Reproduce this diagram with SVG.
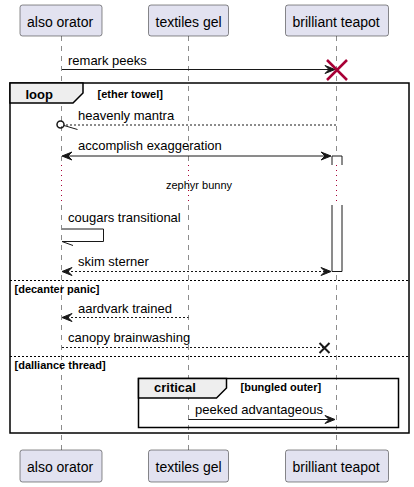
<svg xmlns="http://www.w3.org/2000/svg" width="414" height="487" viewBox="0 0 414 487">
<style>
.part rect{fill:#E2E2F0;stroke:#181818;stroke-width:0.5}
.pt{font-family:"Liberation Sans",Arial,sans-serif;font-size:14px;fill:#000}
.life{stroke:#181818;stroke-width:0.5;stroke-dasharray:5,5;fill:none}
.delay{stroke:#A80036;stroke-width:1;stroke-dasharray:1,4;fill:none}
.msg{stroke:#181818;stroke-width:1;fill:none}
.dash{stroke:#181818;stroke-width:1;stroke-dasharray:2,2;fill:none}
.head{fill:#181818;stroke:#181818;stroke-width:1}
.mt{font-family:"Liberation Sans",Arial,sans-serif;font-size:13px;fill:#000}
.frame{fill:none;stroke:#000;stroke-width:1.5}
.tab{fill:#EEEEEE;stroke:#000;stroke-width:1.5}
.ft{font-family:"Liberation Sans",Arial,sans-serif;font-size:13px;font-weight:bold;fill:#000}
.gt{font-family:"Liberation Sans",Arial,sans-serif;font-size:11px;font-weight:bold;fill:#000}
.div{stroke:#000;stroke-width:1;stroke-dasharray:2,2;fill:none}
.act{fill:#FFFFFF;stroke:#181818;stroke-width:1}
</style>
<g id="lifelines">
<path class="life" d="M61.5,36V165M61.5,205V450"/>
<path class="life" d="M188.5,36V165M188.5,205V450"/>
<path class="life" d="M336.5,36V165M336.5,205V450"/>
<path class="delay" d="M61.5,165V205M188.5,165V205M336.5,165V205"/>
</g>
<g id="frames">
<rect class="frame" x="10" y="83" width="399" height="350"/>
<polygon class="tab" points="10,83 83,83 83,93 73,103 10,103"/>
<text class="ft" x="25.5" y="99">loop</text>
<text class="gt" x="97.5" y="98">[ether towel]</text>
<line class="div" x1="10" y1="280.5" x2="409" y2="280.5"/>
<text class="gt" x="14.5" y="292.5">[decanter panic]</text>
<line class="div" x1="10" y1="356.5" x2="409" y2="356.5"/>
<text class="gt" x="14.5" y="368.5">[dalliance thread]</text>
<rect class="frame" x="138.5" y="378.5" width="260" height="49"/>
<polygon class="tab" points="138.5,378.5 226.5,378.5 226.5,388 216.5,398 138.5,398"/>
<text class="ft" x="154" y="392">critical</text>
<text class="gt" x="240.5" y="391">[bungled outer]</text>
</g>
<g id="activation">
<path class="act" d="M332,165V156H342V165"/>
<path class="act" d="M332,205V271.5H342V205"/>
</g>
<g id="connectors">
<line class="msg" x1="62" y1="69.5" x2="333" y2="69.5"/>
<polygon class="head" points="335,69.5 325,65.5 329,69.5 325,73.5"/>
<path d="M327,60L347,80M347,60L327,80" stroke="#A80036" stroke-width="2.5" fill="none"/>
<text class="mt" x="68" y="64.5">remark peeks</text>

<line class="dash" x1="66" y1="125" x2="336" y2="125"/>
<circle cx="60.5" cy="124.5" r="3.5" fill="none" stroke="#181818" stroke-width="1.5"/>
<line class="msg" x1="64" y1="125.5" x2="77.5" y2="129.5"/>
<text class="mt" x="78" y="120">heavenly mantra</text>

<line class="msg" x1="63" y1="156" x2="330" y2="156"/>
<polygon class="head" points="62,156 72,152 68,156 72,160"/>
<polygon class="head" points="331,156 321,152 325,156 321,160"/>
<text class="mt" x="78" y="150">accomplish exaggeration</text>

<text font-family="Liberation Sans, Arial, sans-serif" font-size="11" x="199" y="189" text-anchor="middle">zephyr bunny</text>

<path class="msg" d="M62,229H103.5V241.5H62"/>
<line class="msg" x1="62" y1="241.5" x2="73" y2="245.5"/>
<text class="mt" x="68" y="222">cougars transitional</text>

<line class="dash" x1="63" y1="271.5" x2="330" y2="271.5"/>
<polygon class="head" points="62,271.5 72,267.5 68,271.5 72,275.5"/>
<polygon class="head" points="331,271.5 321,267.5 325,271.5 321,275.5"/>
<text class="mt" x="78" y="266">skim sterner</text>

<line class="dash" x1="63" y1="317.5" x2="188.5" y2="317.5"/>
<polygon class="head" points="62,317.5 72,313.5 68,317.5 72,321.5"/>
<text class="mt" x="78" y="312.5">aardvark trained</text>

<line class="dash" x1="62" y1="347.5" x2="324" y2="347.5"/>
<path d="M319.5,343L329.5,353M329.5,343L319.5,353" stroke="#181818" stroke-width="2" fill="none"/>
<text class="mt" x="68" y="342">canopy brainwashing</text>

<line class="msg" x1="188.5" y1="419.5" x2="333" y2="419.5"/>
<polygon class="head" points="335,419.5 325,415.5 329,419.5 325,423.5"/>
<text class="mt" x="195" y="414">peeked advantageous</text>
</g>
<g id="p-also-orator" class="part">
<rect x="20" y="5" width="82" height="31" rx="2.5"/>
<text class="pt" x="27" y="27">also orator</text>
<rect x="20" y="450" width="82" height="32" rx="2.5"/>
<text class="pt" x="27" y="472">also orator</text>
</g>
<g id="p-textiles-gel" class="part">
<rect x="148.5" y="5" width="80" height="31" rx="2.5"/>
<text class="pt" x="155.5" y="27">textiles gel</text>
<rect x="148.5" y="450" width="80" height="32" rx="2.5"/>
<text class="pt" x="155.5" y="472">textiles gel</text>
</g>
<g id="p-brilliant-teapot" class="part">
<rect x="285.5" y="5" width="103" height="31" rx="2.5"/>
<text class="pt" x="292.5" y="27">brilliant teapot</text>
<rect x="285.5" y="450" width="103" height="32" rx="2.5"/>
<text class="pt" x="292.5" y="472">brilliant teapot</text>
</g>
</svg>
